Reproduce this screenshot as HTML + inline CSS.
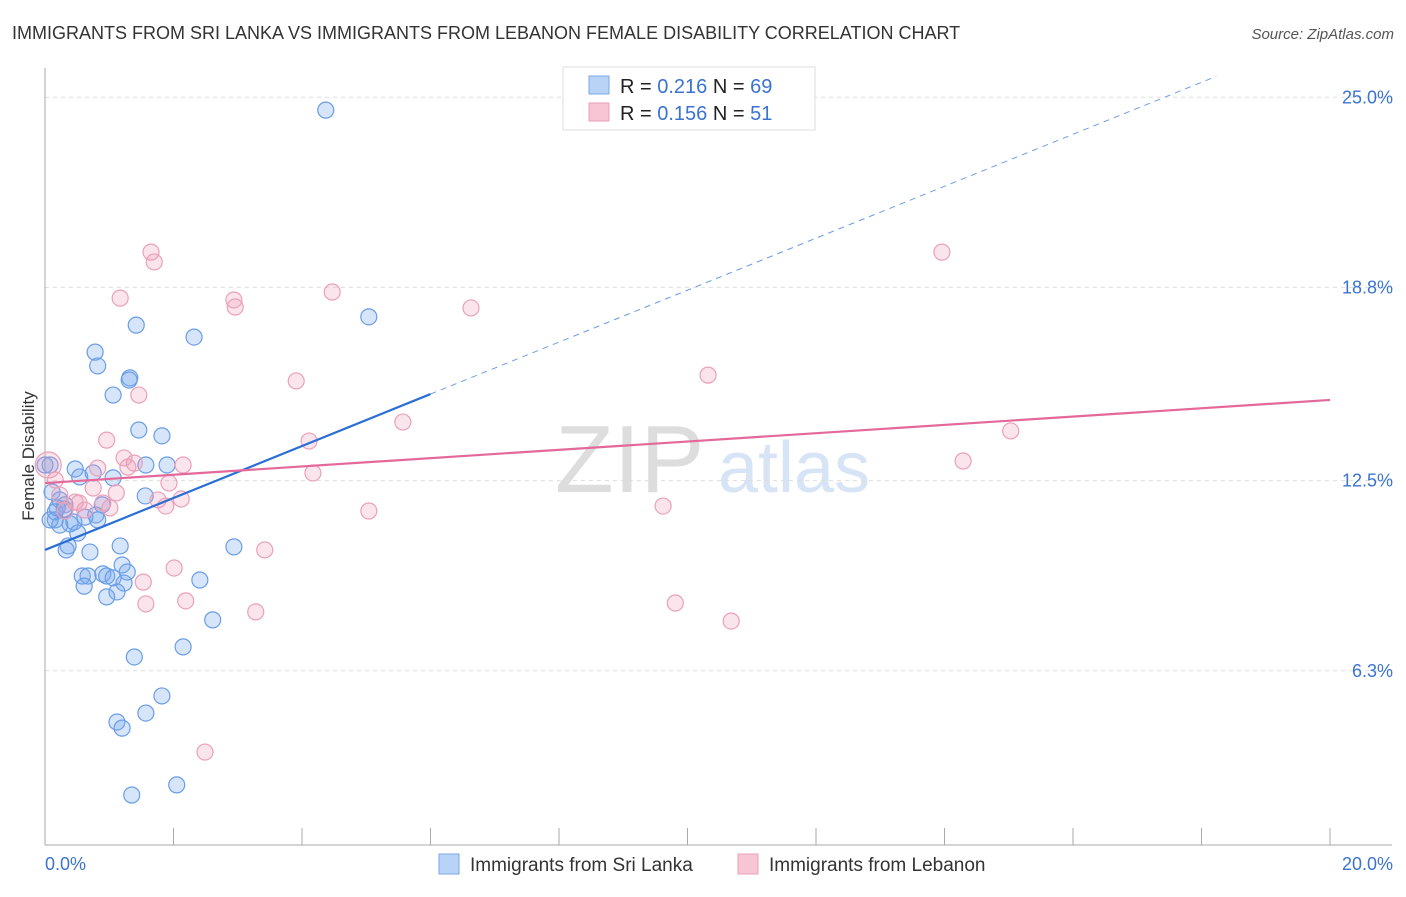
<!DOCTYPE html>
<html><head><meta charset="utf-8"><style>
body{margin:0;background:#fff;font-family:"Liberation Sans",sans-serif;}
svg text{font-family:"Liberation Sans",sans-serif;}
</style></head><body>
<svg id="chart" width="1406" height="892" xmlns="http://www.w3.org/2000/svg">
<text x="12" y="39" font-size="18" fill="#333">IMMIGRANTS FROM SRI LANKA VS IMMIGRANTS FROM LEBANON FEMALE DISABILITY CORRELATION CHART</text>
<text x="1394" y="39" font-size="15" fill="#555" text-anchor="end" font-style="italic">Source: ZipAtlas.com</text>
<text x="555" y="492" font-size="96" fill="#ddd" font-family="Liberation Serif">ZIP</text>
<text x="718" y="492" font-size="72" fill="#d6e4f5">atlas</text>
<g id="grid"></g><g id="axes"></g><g id="pts"></g><g id="lines"></g>
<text transform="translate(34,456) rotate(-90)" font-size="17" fill="#333" text-anchor="middle">Female Disability</text>
<g>
<rect x="563" y="67" width="252" height="63" fill="#fff" stroke="#ddd"/>
<rect x="589" y="76" width="20" height="18" fill="#b8d3f5" stroke="#7aa7e6"/>
<rect x="589" y="103" width="20" height="18" fill="#f8c5d5" stroke="#eba0b8"/>
<text x="620" y="93" font-size="20" fill="#222">R = <tspan fill="#3b73d1">0.216</tspan>   N = <tspan fill="#3b73d1">69</tspan></text>
<text x="620" y="120" font-size="20" fill="#222">R = <tspan fill="#3b73d1">0.156</tspan>   N =  <tspan fill="#3b73d1">51</tspan></text>
</g>
<g>
<rect x="439" y="854" width="20" height="20" fill="#b8d3f5" stroke="#7aa7e6"/>
<text x="470" y="871" font-size="19" fill="#333">Immigrants from Sri Lanka</text>
<rect x="738" y="854" width="20" height="20" fill="#f8c5d5" stroke="#eba0b8"/>
<text x="769" y="871" font-size="19" fill="#333">Immigrants from Lebanon</text>
</g>
</svg>
<script>
const yTicks=[6.3,12.5,18.8,25.0];
const yTickLabels=["6.3%","12.5%","18.8%","25.0%"];
const xTickLabels=["0.0%","20.0%"];
const blueX=[4.37,5.04,1.42,2.32,0.78,0.82,1.32,1.31,1.06,1.46,1.82,1.57,1.90,0.47,0.54,1.06,0.75,0.08,0.11,0.23,1.56,0.89,0.16,0.31,0.79,0.82,0.16,0.39,0.45,0.23,0.51,0.36,0.33,0.70,1.17,2.94,1.20,1.28,0.58,0.67,0.90,0.96,1.06,2.41,0.61,1.23,1.12,0.96,2.61,1.39,2.15,1.82,1.57,1.12,1.20,2.05,1.35,0.0,0.08,0.62,0.19,0.30];
const blueY=[24.58,17.84,17.57,17.18,16.69,16.24,15.85,15.78,15.29,14.15,13.96,13.01,13.01,12.88,12.62,12.59,12.75,13.01,12.13,11.87,12.00,11.71,11.48,11.71,11.38,11.22,11.22,11.09,11.15,11.05,10.79,10.37,10.24,10.17,10.37,10.34,9.75,9.52,9.39,9.39,9.46,9.39,9.33,9.26,9.06,9.16,8.87,8.71,7.96,6.75,7.08,5.48,4.92,4.63,4.43,2.58,2.25,13.01,11.22,11.31,11.61,11.57];
const pinkX=[1.65,1.70,13.96,1.17,2.94,2.96,4.47,6.63,10.32,3.91,1.46,5.57,15.03,0.96,4.11,14.29,1.23,0.82,1.39,2.15,1.29,4.17,1.93,0.75,1.11,0.16,0.23,0.47,0.53,0.90,1.01,2.12,1.76,1.88,5.04,9.62,0.62,0.31,3.42,2.01,1.53,2.19,1.57,9.81,3.28,10.68,2.49,0.05];
const pinkY=[19.95,19.63,19.95,18.45,18.39,18.16,18.65,18.13,15.94,15.75,15.29,14.41,14.12,13.82,13.79,13.14,13.24,12.91,13.07,13.01,12.94,12.75,12.42,12.26,12.10,12.52,12.03,11.80,11.77,11.77,11.61,11.90,11.87,11.67,11.51,11.67,11.54,11.51,10.24,9.65,9.19,8.58,8.48,8.51,8.22,7.92,3.65,13.01];
const blueTrend=[10.24,0.847];
const pinkTrend=[12.42,0.1355];
const NS="http://www.w3.org/2000/svg";
const X=v=>45+v*64.25, Y=v=>864-v*30.67;
function mk(p,t,a){const e=document.createElementNS(NS,t);for(const k in a)e.setAttribute(k,a[k]);p.appendChild(e);return e;}
const grid=document.getElementById('grid'),axes=document.getElementById('axes'),pts=document.getElementById('pts'),lines=document.getElementById('lines');
yTicks.forEach((t,i)=>{
 const l=mk(grid,'line',{x1:45,x2:1392,y1:Y(t),y2:Y(t),stroke:'#ddd','stroke-dasharray':'4,4'});
 
 
 const tx=mk(axes,'text',{x:1393,y:Y(t)+6,'font-size':18,fill:'#3b73d1','text-anchor':'end'});
 tx.textContent=yTickLabels[i];
 
 
});
const ya=mk(axes,'line',{x1:45,x2:45,y1:68,y2:845,stroke:'#aaa'});


const xa=mk(axes,'line',{x1:45,x2:1392,y1:845,y2:845,stroke:'#aaa'});


for(let i=0;i<=10;i++){
 const tk=mk(axes,'line',{x1:X(i*2),x2:X(i*2),y1:828,y2:845,stroke:'#aaa'});
 
 
}
[[0,45,'start'],[20,1393,'end']].forEach((d,i)=>{
 const tx=mk(axes,'text',{x:d[1],y:870,'font-size':18,fill:'#3b73d1','text-anchor':d[2]});
 tx.textContent=xTickLabels[i];
 
 
});
blueX.forEach((x,i)=>{
 const c=mk(pts,'circle',{cx:X(x),cy:Y(blueY[i]),r:8,fill:'rgba(120,170,240,0.3)',stroke:'#6a9de6','stroke-width':1.2});
 
 
});
pinkX.forEach((x,i)=>{
 const c=mk(pts,'circle',{cx:X(x),cy:Y(pinkY[i]),r:i==pinkX.length-1?13:8,fill:'rgba(240,150,180,0.25)',stroke:'#eba0b8','stroke-width':1.2});
 
 
});
const bEnd=(25.68-blueTrend[0])/blueTrend[1];
const b1=mk(lines,'line',{x1:X(0),y1:Y(blueTrend[0]),x2:X(6),y2:Y(blueTrend[0]+6*blueTrend[1]),stroke:'#2a6fd6','stroke-width':2.2});


const b2=mk(lines,'line',{x1:X(6),y1:Y(blueTrend[0]+6*blueTrend[1]),x2:X(bEnd),y2:Y(blueTrend[0]+bEnd*blueTrend[1]),stroke:'#6a9de6','stroke-width':1,'stroke-dasharray':'6,5'});


const p1=mk(lines,'line',{x1:X(0),y1:Y(pinkTrend[0]),x2:X(20),y2:Y(pinkTrend[0]+20*pinkTrend[1]),stroke:'#e4689a','stroke-width':2.2});


</script>
</body></html>
